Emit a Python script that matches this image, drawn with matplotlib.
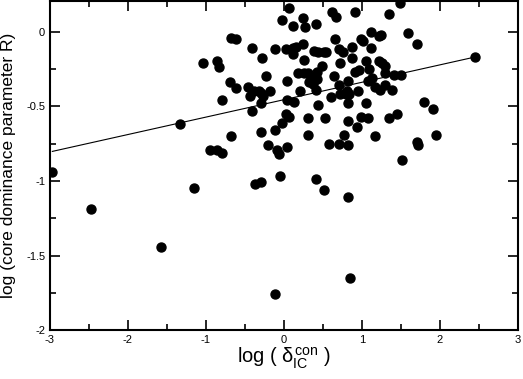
import numpy as np
import matplotlib
matplotlib.use("Agg")
import matplotlib.pyplot as plt
from matplotlib.ticker import MultipleLocator, FormatStrFormatter

plt.rcParams['font.family'] = ['Liberation Sans', 'DejaVu Sans']
plt.rcParams['axes.unicode_minus'] = False
plt.rcParams['mathtext.fontset'] = 'custom'
plt.rcParams['mathtext.rm'] = 'Liberation Sans'
plt.rcParams['mathtext.it'] = 'Liberation Sans'

# log(delta_IC^con) and log(R)
log_delta = [0.07, 1.49, 0.62, 0.67, 0.91, 1.35, -0.03, 0.25, 0.12, 0.27,
             0.41, 1.11, 1.59, 1.22, 1.24, 1.71, 0.65, 0.99, 1.01, 0.24,
             0.16, 0.11, 0.87, -0.12, 0.02, 1.12, 0.12, 0.38, 0.43, 0.51,
             0.54, 0.71, 0.76, -0.28, 0.26, 0.87, 1.05, 0.72, 0.49, 1.22,
             1.26, 1.29, 1.09, -0.23, 0.18, 0.26, 0.31, 0.42, 0.64, 0.91,
             0.96, 1.29, 1.41, 1.50, 1.13, 0.04, 0.35, 0.42, 0.37, 0.32,
             0.37, 0.82, 1.08, 0.71, 1.17, 1.23, 1.29, 1.38, -0.18, -0.27,
             0.21, 0.41, 0.72, 0.79, 0.81, 0.83, 0.95, 0.60, 0.04, 0.13,
             1.80, 1.91, 0.43, 0.82, 1.05, 0.03, 0.06, -0.03, 0.31, 0.52,
             0.82, 0.99, 1.08, 1.34, 1.45, -0.12, -0.30, 0.94, 0.31, 0.77,
             1.17, 1.95, -0.21, -0.09, -0.06, 0.04, 0.58, 0.71, 0.82, 1.70,
             1.72, 1.51, -0.68, -0.61, -0.41, -1.04, -0.86, -0.83, -0.69, -0.62,
             -0.46, -0.44, -0.38, -0.32, -0.29, -0.79, -0.30, -0.41, -1.33, -0.68,
             -0.95, -0.86, -0.79, -2.97, -0.05, -1.15, -0.37, -0.30, 0.41, 0.51,
             0.82, -2.48, -1.58, 0.84, -0.11, 2.45]
log_R = [0.16, 0.19, 0.13, 0.10, 0.13, 0.12, 0.08, 0.09, 0.04, 0.03,
         0.05, 0.00, -0.01, -0.03, -0.02, -0.08, -0.05, -0.05, -0.06, -0.08,
         -0.10, -0.11, -0.10, -0.12, -0.12, -0.11, -0.15, -0.13, -0.14, -0.14,
         -0.14, -0.12, -0.14, -0.18, -0.19, -0.18, -0.20, -0.21, -0.23, -0.20,
         -0.21, -0.23, -0.25, -0.30, -0.28, -0.28, -0.28, -0.27, -0.30, -0.27,
         -0.26, -0.28, -0.29, -0.29, -0.31, -0.33, -0.31, -0.32, -0.33, -0.34,
         -0.35, -0.33, -0.33, -0.36, -0.37, -0.39, -0.36, -0.39, -0.40, -0.43,
         -0.40, -0.39, -0.42, -0.42, -0.40, -0.42, -0.40, -0.44, -0.46, -0.47,
         -0.47, -0.52, -0.49, -0.48, -0.48, -0.55, -0.57, -0.61, -0.58, -0.58,
         -0.60, -0.57, -0.58, -0.58, -0.55, -0.66, -0.67, -0.64, -0.69, -0.69,
         -0.70, -0.69, -0.76, -0.79, -0.82, -0.77, -0.75, -0.75, -0.76, -0.74,
         -0.76, -0.86, -0.04, -0.05, -0.11, -0.21, -0.20, -0.24, -0.34, -0.38,
         -0.37, -0.43, -0.40, -0.40, -0.41, -0.46, -0.48, -0.53, -0.62, -0.70,
         -0.79, -0.79, -0.81, -0.94, -0.97, -1.05, -1.02, -1.01, -0.99, -1.06,
         -1.11, -1.19, -1.44, -1.65, -1.76, -0.17]

# straight-line fit drawn in the figure
fit_slope = 0.1166
fit_intercept = -0.456

fig = plt.figure(figsize=(5.23, 3.79), dpi=100)
ax = fig.add_axes([0.0956, 0.1285, 0.8948, 0.869])

ax.scatter(log_delta, log_R, s=42, color='black', zorder=3)
xx = np.array([min(log_delta), max(log_delta)])
ax.plot(xx, fit_slope * xx + fit_intercept, color='black', lw=0.8)

ax.set_xlim(-3, 3)
ax.set_ylim(-2, 0.205)
ax.xaxis.set_major_locator(MultipleLocator(1))
ax.xaxis.set_minor_locator(MultipleLocator(0.5))
ax.yaxis.set_major_locator(MultipleLocator(0.5))
ax.yaxis.set_minor_locator(MultipleLocator(0.25))
ax.xaxis.set_major_formatter(FormatStrFormatter('%g'))
ax.yaxis.set_major_formatter(FormatStrFormatter('%g'))
ax.tick_params(which='both', direction='in', top=True, right=True, width=1.2,
               labelsize=8)
ax.tick_params(which='major', length=7)
ax.tick_params(which='minor', length=4)
for sp in ax.spines.values():
    sp.set_linewidth(1.5)

ax.set_xlabel(r'log ( $\delta_{\rm IC}^{\rm con}$ )', fontsize=14.5, labelpad=0)
ax.set_ylabel('log (core dominance parameter R)', fontsize=12.5, labelpad=7)

fig.savefig('out.png', dpi=100)
